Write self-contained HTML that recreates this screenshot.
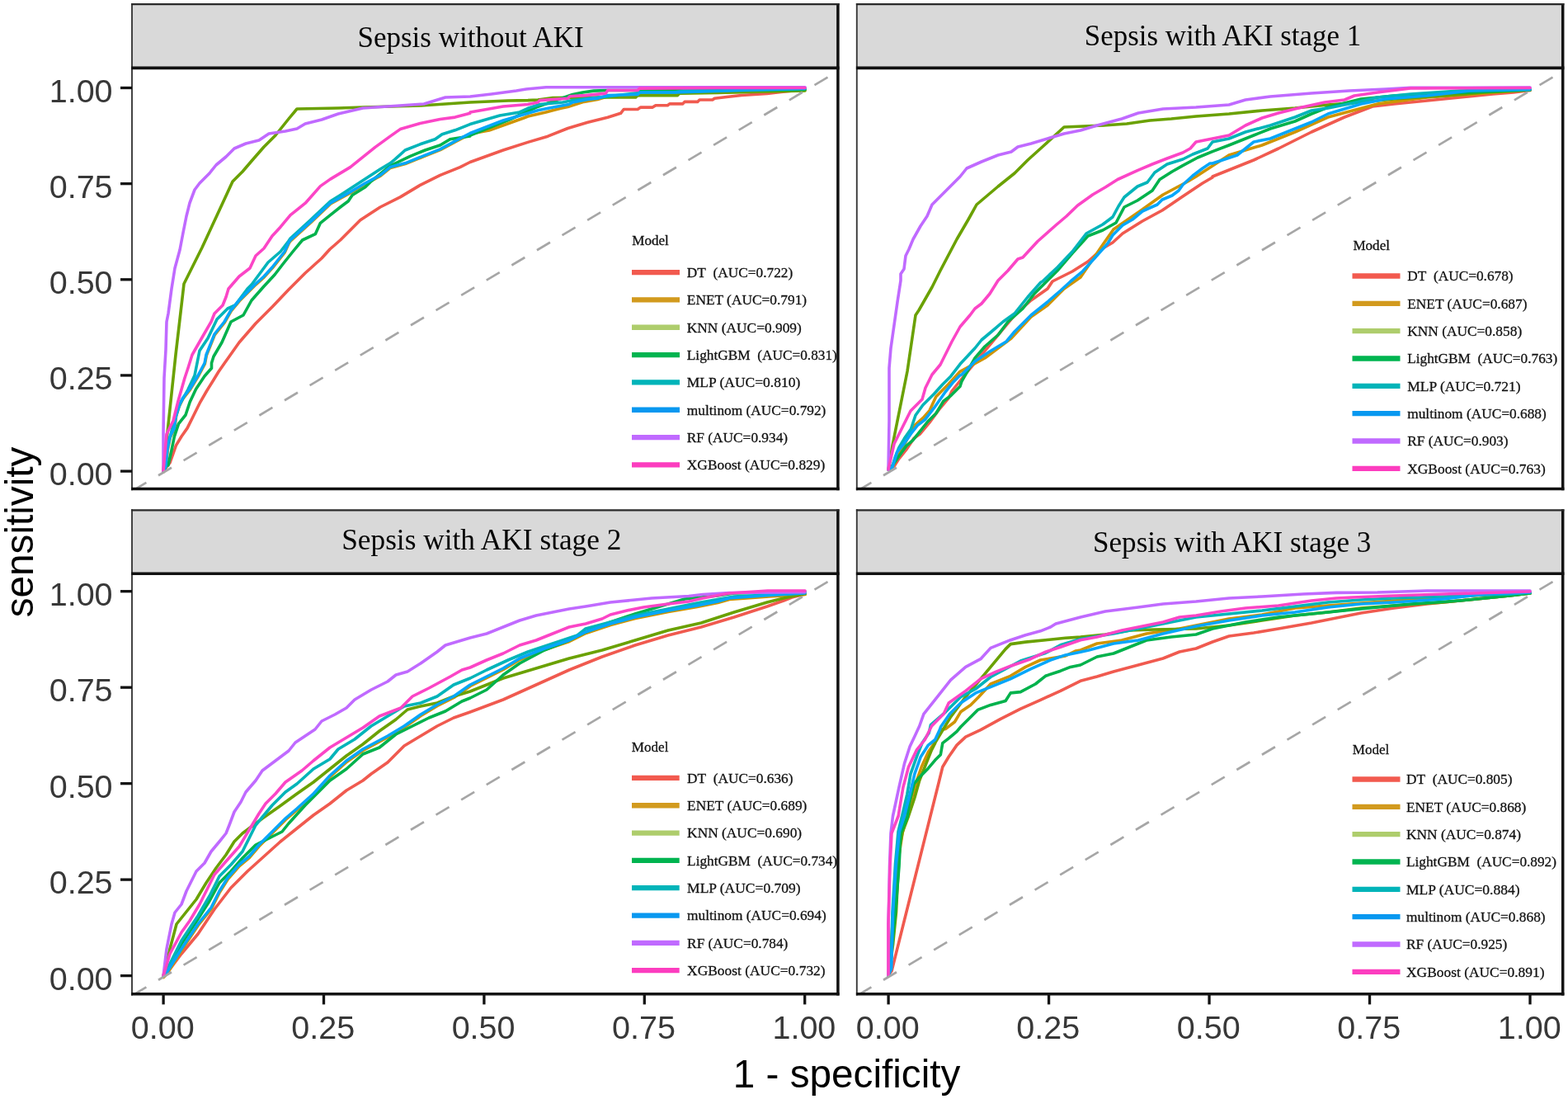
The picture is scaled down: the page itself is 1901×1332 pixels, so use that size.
<!DOCTYPE html>
<html><head><meta charset="utf-8"><title>ROC curves by sepsis/AKI stage</title>
<style>
html,body{margin:0;padding:0;background:#fff;overflow:hidden;width:1901px;height:1332px}
svg{display:block}
.st{font-family:"Liberation Serif",serif;font-size:36.5px;fill:#050505}
.tk{font-family:"Liberation Sans",sans-serif;font-size:39.5px;fill:#383838}
.lg{font-family:"Liberation Serif",serif;font-size:17.6px;fill:#111;stroke:#111;stroke-width:0.3px}
.at{font-family:"Liberation Sans",sans-serif;font-size:47.7px;fill:#000}
</style></head><body>
<svg width="1901" height="1332" viewBox="0 0 1901 1332">
<rect width="1901" height="1332" fill="#fff"/>
<rect x="160" y="5.1" width="855.9" height="77.3" fill="#d9d9d9"/>
<clipPath id="cA"><rect x="160" y="82.4" width="855.9" height="510.1"/></clipPath>
<g clip-path="url(#cA)" fill="none" stroke-linejoin="round" stroke-linecap="round">
<path d="M198,571 206,561 213.4,539.9 220,529 227.1,518.9 235,503 242.8,487.3 250.5,474 258.6,461 265,450.5 272.3,440 278,432 290,415 310,392 330,372 350,351 370,331 390,313 400,302 412.6,291 436.8,266.7 461,251 485.2,238.9 509.4,224.4 533.6,212.3 557.8,202.6 569.9,196.5 610,182 640,172.4 664.2,165.2 688.4,155.5 712.6,148.2 736.8,142.2 752.5,137.3 756.2,132.5 773.1,132.5 776.7,130.1 791.2,130.1 794.9,127.7 809.4,127.7 811.8,125.9 827.5,125.9 830,123.4 845.7,123.4 848.1,121 863.8,121 866.3,119.2 881,117.5 899,115.5 930,113.5 947,111.5 976,108.5" stroke="#F05A4F" stroke-width="3.6"/>
<path d="M198.3,571.8 201.1,567 203.2,546 206.3,530.2 211.6,519.7 213.7,503.8 216.8,493.4 222.1,482.8 230.5,472.3 240,456.6 248.4,440.8 250.3,430.8 260.3,405.8 272.3,390.8 280.3,376.8 290.3,364.8 300.3,354.8 310.3,344.8 320.3,335.8 330.3,324.8 345.3,305.8 350.3,294.8 352.4,291.8 376.6,269.9 400.8,247 425,233.6 443.1,222.8 461.3,213.1 473.4,203.4 491.5,198.6 515.7,188.9 533.9,181.6 552,171.9 570.2,162.3 593,158 635,143 640,141 661.8,136.1 670.2,133.7 680,131.3 688.4,129.5 707.8,123.4 724.7,120.4 736.8,116.8 773.1,115.5 819,113 900,110 976,108.2" stroke="#CF9400" stroke-width="3.6"/>
<path d="M198,571 213,430 220,370 223,344 230,330 245,300 270,246 282,220 294,208 306,194 320,178 334,164 350,144 360,132 410,131 440,130 510,128 570,124 616,122 640,121.6 652.1,121 670.2,118.6 739.2,118 770.7,118 773.1,115.6 821.5,115.6 823.9,113.1 870,112.5 976,110" stroke="#6AA100" stroke-width="3.6"/>
<path d="M198,571 202,564 203.9,564 208.1,545.2 211.3,529.4 216.5,513.6 225,503 230.2,487.3 237.6,471.5 248.1,455.8 256.5,446.3 256.5,440 259,432 269,415 280,390 295,382 305,364 320,347 333,333 343,320 355,305 366.6,291 382.3,283.7 388.4,270.3 400.5,260.7 412.6,251 422.3,243.7 427.1,236.5 442.8,226.8 448.9,220.7 473,201 497.3,189.3 515.4,182 533.6,176 545.7,168.7 569.9,165 570,164 600,152 620,144 650,130 690,116 694.4,114.4 706.5,112 719.9,110.1 735.6,109.5 900,109.5 976,108.5" stroke="#00B24C" stroke-width="3.6"/>
<path d="M198,571 201,550 210,515 218,490 228,472 236,455 242,425 252,410 263,387 276,374 285,370 300,350 305,345 325,318 340,305 350,292 352,289 376,267 400.5,244 412.6,236.5 461,205 473.1,197.8 479.1,192.9 491.2,182 509.4,174.8 527.5,168.7 536,162.7 551.7,157.8 569.9,150.6 606,140 630,136 640,131.3 654.5,126.5 682.3,124 694.4,121.6 779.1,112 817.9,112 830,109.5 849.3,109.5 976,107" stroke="#00B4B9" stroke-width="3.6"/>
<path d="M198,571 200.8,566.2 202.9,545.2 206,529.4 211.3,518.9 213.4,503 216.5,492.6 221.8,482 230.2,471.5 239.7,455.8 248.1,440 250,430 260,405 272,390 280,376 290,364 300,354 310,344 320,335 330,324 345,305 350,294 352.1,291 376.3,269.1 400.5,246.2 424.7,232.8 442.8,222 461,212.3 473.1,202.6 491.2,197.8 515.4,188.1 533.6,180.8 551.7,171.1 569.9,161.5 610,146 640,137.3 652.1,133.7 664.2,131.3 689.6,126.5 694.4,124 712.6,120.4 724.7,119.2 736.8,115.6 773.1,114.4 775.5,112 819.1,112 900,109.5 976,107.5" stroke="#06A6FA" stroke-width="3.6"/>
<path d="M198,571 198,526 199,458 201,424 202,390 204,380 208,350 212,325 218,303 222,282 226,262 230,246 236,230 242,222 254,210 262,200 274,190 284,180 298,174 314,170 326,162 346,159 360,156 370,150 390,145 410,138 440,131 470,129 514,126 540,118 570,117 596,114 626,110 638,108 662,105.8 976,105.8" stroke="#C06AFF" stroke-width="3.6"/>
<path d="M198,571 202,526 210,510 216,486 224,458 228,446 233,430 245,409 256,390 260,380 270,370 274,360 277,350 290,335 303,325 310,310 320,301 330,286 340,275.2 352.1,260.7 370.2,246.2 388.4,225.6 400.5,217.1 424.7,202.6 436.8,192.9 454.9,178.4 473.1,165.1 485.2,156.6 509.4,149.4 533.6,144.5 551.7,142.1 569.9,137.3 570,136 610,129 640,126.5 652.1,124 654.5,121.6 688.4,119.2 690.8,116.8 710.2,115.6 734.4,113.1 736.8,109.5 773.1,109.5 775.5,107.1 870,106.5 976,106.5" stroke="#FB45C6" stroke-width="3.6"/>
<line x1="100.2" y1="630.86" x2="1048.8" y2="66.63" stroke="#a6a6a6" stroke-width="2.7" stroke-linecap="butt" stroke-dasharray="18.6 17"/>
</g>
<text x="766.2" y="297" class="lg" textLength="44.6" lengthAdjust="spacingAndGlyphs">Model</text>
<line x1="766" y1="330.1" x2="824" y2="330.1" stroke="#F25A4F" stroke-width="6.3"/>
<text x="832.8" y="335.9" class="lg" textLength="128.4" lengthAdjust="spacingAndGlyphs">DT  (AUC=0.722)</text>
<line x1="766" y1="363.43" x2="824" y2="363.43" stroke="#D29A1E" stroke-width="6.3"/>
<text x="832.8" y="369.23" class="lg" textLength="145.3" lengthAdjust="spacingAndGlyphs">ENET (AUC=0.791)</text>
<line x1="766" y1="396.76" x2="824" y2="396.76" stroke="#AECD6C" stroke-width="6.3"/>
<text x="832.8" y="402.56" class="lg" textLength="139" lengthAdjust="spacingAndGlyphs">KNN (AUC=0.909)</text>
<line x1="766" y1="430.09" x2="824" y2="430.09" stroke="#00B450" stroke-width="6.3"/>
<text x="832.8" y="435.89" class="lg" textLength="182" lengthAdjust="spacingAndGlyphs">LightGBM  (AUC=0.831)</text>
<line x1="766" y1="463.42" x2="824" y2="463.42" stroke="#00B4B9" stroke-width="6.3"/>
<text x="832.8" y="469.22" class="lg" textLength="137.5" lengthAdjust="spacingAndGlyphs">MLP (AUC=0.810)</text>
<line x1="766" y1="496.75" x2="824" y2="496.75" stroke="#0898F0" stroke-width="6.3"/>
<text x="832.8" y="502.55" class="lg" textLength="168.6" lengthAdjust="spacingAndGlyphs">multinom (AUC=0.792)</text>
<line x1="766" y1="530.08" x2="824" y2="530.08" stroke="#C06AFF" stroke-width="6.3"/>
<text x="832.8" y="535.88" class="lg" textLength="122.3" lengthAdjust="spacingAndGlyphs">RF (AUC=0.934)</text>
<line x1="766" y1="563.41" x2="824" y2="563.41" stroke="#FC3DBF" stroke-width="6.3"/>
<text x="832.8" y="569.21" class="lg" textLength="167.5" lengthAdjust="spacingAndGlyphs">XGBoost (AUC=0.829)</text>
<line x1="160" y1="4" x2="160" y2="594.2" stroke="#3a3a3a" stroke-width="1.9"/>
<line x1="1015.9" y1="4" x2="1015.9" y2="594.2" stroke="#111" stroke-width="3.5"/>
<line x1="159.1" y1="5.1" x2="1017.6" y2="5.1" stroke="#2a2a2a" stroke-width="2.3"/>
<line x1="159.1" y1="82.4" x2="1017.6" y2="82.4" stroke="#111" stroke-width="3.6"/>
<line x1="159.1" y1="592.5" x2="1017.6" y2="592.5" stroke="#111" stroke-width="3.5"/>
<text x="433.5" y="56.8" class="st" textLength="274.2" lengthAdjust="spacingAndGlyphs">Sepsis without AKI</text>
<rect x="1038.8" y="5.1" width="855.9" height="77.3" fill="#d9d9d9"/>
<clipPath id="cB"><rect x="1038.8" y="82.4" width="855.9" height="510.1"/></clipPath>
<g clip-path="url(#cB)" fill="none" stroke-linejoin="round" stroke-linecap="round">
<path d="M1077,569 1082,566 1084.1,565.1 1089.8,556.1 1098.8,544.9 1107.8,531.4 1115.7,525.7 1126.9,512.2 1139.3,495.3 1150.6,481.8 1154,474 1170,454 1190,430 1210,406 1230,382 1250,364 1270,350 1276,341 1300,329 1319,317 1337,301 1349,294 1361,283 1385,268 1409,255 1434,238 1458,222 1470,215 1470,214 1500,202 1520,194 1550,180 1590,160 1630,142 1664,129 1690,126 1730,122 1770,118 1810,114 1835,112 1855,109.5" stroke="#F05A4F" stroke-width="3.6"/>
<path d="M1077,569 1082,566 1100,532 1110,514.5 1119,506.6 1127,497.6 1134.8,480.7 1149.5,466 1164,450.3 1194,434 1226,410 1250,384 1270,370 1290,350 1310,336 1336,298 1350,278 1382,256 1410,236 1440,220 1450,214 1490,188 1530,176 1570,160 1610,142 1640,134 1670,126 1730,118 1800,113 1855,109" stroke="#CF9400" stroke-width="3.6"/>
<path d="M1077,569 1082,540 1090,500 1100,450 1110,382 1114,376 1130,348 1140,328 1160,290 1174,266 1184,248 1210,226 1230,210 1246,194 1266,176 1290,154 1338,152 1366,150 1394,146 1420,144 1450,141 1490,138 1530,134 1570,131 1610,127 1650,124 1690,120 1750,116 1800,112 1855,109" stroke="#6AA100" stroke-width="3.6"/>
<path d="M1077,569 1082,564 1085.3,559.5 1093.2,548.2 1098.8,540.4 1106.7,533.6 1115.7,522.3 1124.7,511 1134.8,501 1143.8,486.3 1152.8,479.5 1164,468.3 1166,462 1182,434 1194,420 1210,406 1222,390 1240,374 1254,356 1280,330 1282,328 1300,307 1319,286 1337,279 1353,270 1363,251 1379,243 1397,231 1406,217.5 1421,208 1434,200.6 1452,191 1470,183.6 1490,176 1520,164 1540,156 1570,147 1590,138 1610,130 1650,120 1690,116 1750,113 1855,109" stroke="#00B24C" stroke-width="3.6"/>
<path d="M1077,569 1081.9,565.1 1085.3,553.9 1089.8,542.6 1096.5,531.4 1104.4,520 1110,503.2 1119,490.8 1132.6,477.3 1142.7,466 1152.8,455.9 1164,441.3 1182,422 1190,412 1202,402 1216,390 1230,380 1246,360 1262,342 1264,341 1282,324 1300,305 1317,283 1337,272 1349,263 1356,250 1363,239 1379,226 1391,221 1400,209 1415,199 1434,193 1446,187 1464,180 1470,172 1490,168 1510,160 1540,152 1570,142 1590,134 1610,131 1640,125 1670,118 1710,114 1770,110 1855,108" stroke="#00B4B9" stroke-width="3.6"/>
<path d="M1077,569 1082,566 1087.5,548.2 1096.5,537 1104.4,525.7 1112.3,515.6 1121.3,508.8 1132.6,494.2 1146.1,475 1155.1,463.8 1164,454.8 1166,454 1182,438 1200,426 1220,414 1230,402 1250,382 1270,366 1286,352 1298,341 1312.6,328.8 1327,313 1343,295 1349,285 1361,273 1373,266 1385,256 1403,248 1409,242 1421,237 1429,231 1434,224 1446,213 1458,204 1467,198 1470,198 1500,188 1520,172 1540,168 1570,156 1590,148 1610,138 1630,132 1650,126 1680,120 1730,116 1782,110 1855,108.5" stroke="#06A6FA" stroke-width="3.6"/>
<path d="M1077,569 1078,510 1078,446 1080,422 1084,394 1088,366 1092,340 1092,332 1096,326 1098,310 1102,302 1107,290 1116,274 1124,262 1130,248 1134,244 1152,226 1164,214 1172,204 1190,196 1210,188 1226,184 1234,178 1250,174 1270,168 1290,162 1310,158 1330,152 1360,144 1380,137 1410,132 1450,130 1490,127 1510,121 1540,117 1590,113 1636,110 1680,108 1710,106.4 1855,106" stroke="#C06AFF" stroke-width="3.6"/>
<path d="M1077,569 1084,538 1094,518 1104,498 1118,484 1122,470 1130,454 1140,442 1146,430 1154,414 1164,396 1176,382 1182,374 1190,368 1200,356 1210,340 1222,328 1234,314 1240,312 1258,292.5 1280,273 1293,262 1306.5,249 1325,235.7 1340,227 1355,217.5 1379,206.6 1397,199 1415,192 1434,185 1443,180 1450,172 1470,168 1490,164 1510,152 1530,143 1550,137 1574,131 1606,124 1630,121 1642,116 1670,112 1710,107 1855,106.5" stroke="#FB45C6" stroke-width="3.6"/>
<line x1="979.2" y1="630.86" x2="1927.8" y2="66.63" stroke="#a6a6a6" stroke-width="2.7" stroke-linecap="butt" stroke-dasharray="18.6 17"/>
</g>
<text x="1640.4" y="303.3" class="lg" textLength="44.6" lengthAdjust="spacingAndGlyphs">Model</text>
<line x1="1639.5" y1="334.5" x2="1697.5" y2="334.5" stroke="#F25A4F" stroke-width="6.3"/>
<text x="1706.2" y="340.3" class="lg" textLength="128.4" lengthAdjust="spacingAndGlyphs">DT  (AUC=0.678)</text>
<line x1="1639.5" y1="367.83" x2="1697.5" y2="367.83" stroke="#D29A1E" stroke-width="6.3"/>
<text x="1706.2" y="373.63" class="lg" textLength="145.3" lengthAdjust="spacingAndGlyphs">ENET (AUC=0.687)</text>
<line x1="1639.5" y1="401.16" x2="1697.5" y2="401.16" stroke="#AECD6C" stroke-width="6.3"/>
<text x="1706.2" y="406.96" class="lg" textLength="139" lengthAdjust="spacingAndGlyphs">KNN (AUC=0.858)</text>
<line x1="1639.5" y1="434.49" x2="1697.5" y2="434.49" stroke="#00B450" stroke-width="6.3"/>
<text x="1706.2" y="440.29" class="lg" textLength="182" lengthAdjust="spacingAndGlyphs">LightGBM  (AUC=0.763)</text>
<line x1="1639.5" y1="467.82" x2="1697.5" y2="467.82" stroke="#00B4B9" stroke-width="6.3"/>
<text x="1706.2" y="473.62" class="lg" textLength="137.5" lengthAdjust="spacingAndGlyphs">MLP (AUC=0.721)</text>
<line x1="1639.5" y1="501.15" x2="1697.5" y2="501.15" stroke="#0898F0" stroke-width="6.3"/>
<text x="1706.2" y="506.95" class="lg" textLength="168.6" lengthAdjust="spacingAndGlyphs">multinom (AUC=0.688)</text>
<line x1="1639.5" y1="534.48" x2="1697.5" y2="534.48" stroke="#C06AFF" stroke-width="6.3"/>
<text x="1706.2" y="540.28" class="lg" textLength="122.3" lengthAdjust="spacingAndGlyphs">RF (AUC=0.903)</text>
<line x1="1639.5" y1="567.81" x2="1697.5" y2="567.81" stroke="#FC3DBF" stroke-width="6.3"/>
<text x="1706.2" y="573.61" class="lg" textLength="167.5" lengthAdjust="spacingAndGlyphs">XGBoost (AUC=0.763)</text>
<line x1="1038.8" y1="4" x2="1038.8" y2="594.2" stroke="#3a3a3a" stroke-width="1.9"/>
<line x1="1894.7" y1="4" x2="1894.7" y2="594.2" stroke="#111" stroke-width="3.5"/>
<line x1="1037.9" y1="5.1" x2="1896.4" y2="5.1" stroke="#2a2a2a" stroke-width="2.3"/>
<line x1="1037.9" y1="82.4" x2="1896.4" y2="82.4" stroke="#111" stroke-width="3.6"/>
<line x1="1037.9" y1="592.5" x2="1896.4" y2="592.5" stroke="#111" stroke-width="3.5"/>
<text x="1314.8" y="55.2" class="st" textLength="335.3" lengthAdjust="spacingAndGlyphs">Sepsis with AKI stage 1</text>
<rect x="160" y="618.3" width="855.9" height="76.9" fill="#d9d9d9"/>
<clipPath id="cC"><rect x="160" y="695.2" width="855.9" height="509.6"/></clipPath>
<g clip-path="url(#cC)" fill="none" stroke-linejoin="round" stroke-linecap="round">
<path d="M198,1183 202,1180 220,1156 240,1132 260,1102 280,1076 300,1056 320,1038 340,1020 360,1004 380,988 400,974 420,958 440,946 450,938 470,924 490,904 510,892 530,880 550,870 570,863 610,848 650,830 690,812 730,796 770,782 810,770 850,760 890,748 930,735 950,728 960,724 976,720" stroke="#F05A4F" stroke-width="3.6"/>
<path d="M198.3,1184.5 202.3,1180.5 220.3,1151.5 240.3,1121.5 256.3,1101.5 266.3,1081.5 276.3,1065.5 290.3,1049.5 302.3,1039.5 314.3,1025.5 330.3,1009.5 346.3,993.5 360.3,981.5 380.3,963.5 400.3,941.5 420.3,923.5 440.3,909.5 470.3,893.5 490.3,881.5 510.3,867.5 530.3,855.5 550.3,845.5 570.3,831.5 590.3,821.5 610.3,811.5 630.3,799.5 660.3,787.5 690.3,777.5 710.3,767.5 740.3,757.5 770.3,749.5 810.3,741.5 845.3,735.5 870.3,730.5 884.3,726.5 912.3,724.5 932.3,723 976.3,720.5" stroke="#CF9400" stroke-width="3.6"/>
<path d="M198,1183 206,1150 214,1120 222,1110 238,1090 250,1070 262,1052 274,1036 284,1020 294,1010 302,1004 318,992 338,978 360,962 380,948 400,932 420,916 440,902 460,886 480,872 494,860 510,856 530,852 550,844 570,838 610,822 650,810 690,798 730,788 770,776 810,764 850,755 890,742 930,730 950,725 976,719.5" stroke="#6AA100" stroke-width="3.6"/>
<path d="M198,1183 202,1178 220,1144 240,1114 254,1092 266,1070 280,1056 294,1040 310,1024 330,1014 342,1008 350,998 370,976 390,956 400,946 420,932 440,914 460,906 480,890 500,880 520,870 540,862 560,850 570,846 590,836 610,818 630,804 660,788 690,776 710,766 740,754 770,744 810,732 830,726 870,722 890,719 976,717" stroke="#00B24C" stroke-width="3.6"/>
<path d="M198,1183 202,1176 220,1140 240,1110 254,1086 266,1062 280,1048 294,1032 310,1000 330,976 346,960 360,950 380,932 400,920 410,908 430,896 450,880 470,868 490,856 510,852 530,844 550,830 570,822 590,812 616,800 640,790 670,780 700,770 710,762 740,754 770,746 810,738 850,730 890,723 930,721 976,717.5" stroke="#00B4B9" stroke-width="3.6"/>
<path d="M198,1183 202,1179 220,1150 240,1120 256,1100 266,1080 276,1064 290,1048 302,1038 314,1024 330,1008 346,992 360,980 380,962 400,940 420,922 440,908 470,892 490,880 510,866 530,854 550,844 570,830 590,820 610,810 630,798 660,786 690,776 710,766 740,756 770,748 810,740 845,734 870,729 884,725 912,723 932,721.5 976,719" stroke="#06A6FA" stroke-width="3.6"/>
<path d="M198,1183 202,1150 208,1120 212,1106 220,1096 226,1080 232,1068 238,1056 248,1046 256,1032 266,1020 274,1010 278,1000 284,984 292,972 298,960 310,946 318,934 334,922 350,910 358,900 370,892 382,884 390,874 406,866 420,858 430,848 450,836 470,826 480,818 494,814 510,804 530,790 540,782 570,773 590,768 610,760 630,752 650,746 670,742 690,738 710,735 740,730 770,727 790,725 835,722.5 852,720.5 884,718.5 976,717.6" stroke="#C06AFF" stroke-width="3.6"/>
<path d="M198,1183 206,1156 220,1130 230,1116 242,1096 250,1080 260,1060 274,1044 290,1026 302,1006 314,986 322,974 334,962 346,948 366,934 380,922 400,906 420,894 440,882 460,868 486,858 500,844 520,834 546,820 560,812 570,809 590,800 610,792 630,782 650,776 670,768 690,760 710,756 730,750 740,745 760,740 780,736 810,732 835,729 852,725 884,719 931,716 976,716" stroke="#FB45C6" stroke-width="3.6"/>
<line x1="100.2" y1="1242.36" x2="1048.8" y2="678.13" stroke="#a6a6a6" stroke-width="2.7" stroke-linecap="butt" stroke-dasharray="18.6 17"/>
</g>
<text x="765.8" y="911.3" class="lg" textLength="44.6" lengthAdjust="spacingAndGlyphs">Model</text>
<line x1="766" y1="942.9" x2="823.7" y2="942.9" stroke="#F25A4F" stroke-width="6.3"/>
<text x="833.1" y="948.7" class="lg" textLength="128.4" lengthAdjust="spacingAndGlyphs">DT  (AUC=0.636)</text>
<line x1="766" y1="976.23" x2="823.7" y2="976.23" stroke="#D29A1E" stroke-width="6.3"/>
<text x="833.1" y="982.03" class="lg" textLength="145.3" lengthAdjust="spacingAndGlyphs">ENET (AUC=0.689)</text>
<line x1="766" y1="1009.56" x2="823.7" y2="1009.56" stroke="#AECD6C" stroke-width="6.3"/>
<text x="833.1" y="1015.36" class="lg" textLength="139" lengthAdjust="spacingAndGlyphs">KNN (AUC=0.690)</text>
<line x1="766" y1="1042.89" x2="823.7" y2="1042.89" stroke="#00B450" stroke-width="6.3"/>
<text x="833.1" y="1048.69" class="lg" textLength="182" lengthAdjust="spacingAndGlyphs">LightGBM  (AUC=0.734)</text>
<line x1="766" y1="1076.22" x2="823.7" y2="1076.22" stroke="#00B4B9" stroke-width="6.3"/>
<text x="833.1" y="1082.02" class="lg" textLength="137.5" lengthAdjust="spacingAndGlyphs">MLP (AUC=0.709)</text>
<line x1="766" y1="1109.55" x2="823.7" y2="1109.55" stroke="#0898F0" stroke-width="6.3"/>
<text x="833.1" y="1115.35" class="lg" textLength="168.6" lengthAdjust="spacingAndGlyphs">multinom (AUC=0.694)</text>
<line x1="766" y1="1142.88" x2="823.7" y2="1142.88" stroke="#C06AFF" stroke-width="6.3"/>
<text x="833.1" y="1148.68" class="lg" textLength="122.3" lengthAdjust="spacingAndGlyphs">RF (AUC=0.784)</text>
<line x1="766" y1="1176.21" x2="823.7" y2="1176.21" stroke="#FC3DBF" stroke-width="6.3"/>
<text x="833.1" y="1182.01" class="lg" textLength="167.5" lengthAdjust="spacingAndGlyphs">XGBoost (AUC=0.732)</text>
<line x1="160" y1="617.2" x2="160" y2="1206.5" stroke="#3a3a3a" stroke-width="1.9"/>
<line x1="1015.9" y1="617.2" x2="1015.9" y2="1206.5" stroke="#111" stroke-width="3.5"/>
<line x1="159.1" y1="618.3" x2="1017.6" y2="618.3" stroke="#2a2a2a" stroke-width="2.3"/>
<line x1="159.1" y1="695.2" x2="1017.6" y2="695.2" stroke="#111" stroke-width="3.6"/>
<line x1="159.1" y1="1204.8" x2="1017.6" y2="1204.8" stroke="#111" stroke-width="3.5"/>
<text x="414.2" y="666.3" class="st" textLength="339.2" lengthAdjust="spacingAndGlyphs">Sepsis with AKI stage 2</text>
<rect x="1038.8" y="618.3" width="855.9" height="76.9" fill="#d9d9d9"/>
<clipPath id="cD"><rect x="1038.8" y="695.2" width="855.9" height="509.6"/></clipPath>
<g clip-path="url(#cD)" fill="none" stroke-linejoin="round" stroke-linecap="round">
<path d="M1077,1182 1081,1177 1087.75,1150 1095.25,1120 1102.75,1090 1110.25,1060 1117.75,1030 1125.25,1000 1132.75,970 1138.75,946 1142.8,929.5 1150.2,917.2 1160,903.1 1170.7,893.1 1188.9,884.6 1213.1,871.3 1237.3,859.2 1261.5,848.3 1285.7,837.4 1309.9,825.3 1330,820 1350,814 1380,806 1410,798 1430,790 1450,786 1470,778 1490,771 1520,767 1550,762 1590,755 1630,747 1650,743 1690,737 1730,732 1770,728 1830,722 1855,719" stroke="#F05A4F" stroke-width="3.6"/>
<path d="M1077,1182 1080,1150 1084,1090 1088,1050 1094,1010 1099.8,987.3 1111.4,946 1117.2,929.5 1125.4,911.4 1132.8,900.6 1141.9,884.1 1146.5,883.4 1157.4,875 1164.7,862.8 1176.8,854.4 1186.5,844.7 1201,829 1225,819.3 1243.3,808.4 1261.5,800 1291.7,795 1303.8,789 1310,788 1330,780 1360,776 1390,768 1430,762 1450,758 1490,750 1530,745 1570,737 1610,734 1690,728 1750,724 1855,718" stroke="#CF9400" stroke-width="3.6"/>
<path d="M1077,1182 1080,1165 1082.6,1144.6 1086.5,1105.6 1088.4,1066.6 1090.4,1027.6 1094.3,1008 1101.5,989 1108.9,966.7 1114.7,946 1122.9,925.4 1129.5,908.9 1133.7,900.6 1134.4,899 1152.6,868.9 1170.7,844.7 1188.9,822.9 1201,808.4 1219.1,786.6 1225.2,780.6 1243.3,778.1 1267.5,775.7 1291.7,773.3 1309.9,772.1 1340,769 1370,764 1400,763 1450,762 1490,758 1530,752 1570,746 1610,742 1650,737 1690,734 1750,730 1830,722 1855,719" stroke="#6AA100" stroke-width="3.6"/>
<path d="M1077,1182 1082,1140 1086,1100 1090,1050 1092,1010 1100,990 1102,975 1108.1,950.2 1114.7,941.9 1125.4,931.2 1133.7,921.3 1140.3,914.7 1142.8,900.6 1150.2,894.9 1160,886.6 1164.7,881 1176.8,868.9 1185.3,860.4 1201,854.4 1219.1,849.5 1225.2,839.9 1237.3,838.6 1255.4,829 1267.5,819.3 1285.7,813.2 1297.8,808.4 1309.9,806 1330,796 1350,792 1370,784 1390,776 1420,772 1450,769 1470,762 1510,754 1550,748 1590,744 1630,740 1670,736 1710,732 1770,728 1830,722 1855,719" stroke="#00B24C" stroke-width="3.6"/>
<path d="M1077,1182 1080,1170 1082,1105 1085.5,1047 1089,1008 1094,987.3 1099.8,962.6 1104,937.8 1111.4,917.2 1118,900.6 1126.2,888.3 1128.4,878.6 1146.5,862.8 1164.7,844.7 1182.8,835 1201,820.5 1237.3,801 1267.5,791.5 1285.7,781.8 1309.9,774.5 1350,768 1390,760 1430,752 1450,748 1490,744 1530,740 1570,735 1610,730 1650,727 1690,725 1750,723 1830,720 1855,718" stroke="#00B4B9" stroke-width="3.6"/>
<path d="M1077,1182 1080.6,1173.9 1082.6,1105.6 1086.5,1047 1090.4,1008 1096.5,989 1103.1,962.6 1108.9,937.8 1116.3,917.2 1125.4,903.1 1133.7,896.5 1139.5,884.1 1140.5,881 1151.4,865.3 1164.7,852 1182.8,839.9 1201,832.6 1225,822.9 1249.4,810.8 1273.6,800 1291.7,793.9 1309.9,790.2 1320,788 1350,780 1380,776 1410,768 1450,759 1490,752 1530,746 1570,742 1610,736 1650,732 1690,730 1750,726 1800,720 1855,718" stroke="#06A6FA" stroke-width="3.6"/>
<path d="M1077,1182 1077,1120 1077.8,1086 1078.5,1050 1080,1010 1082.5,989 1089.9,954.3 1096.5,925.4 1103.1,904.8 1108.9,892.4 1114.7,880 1119.9,865.3 1134.4,847.1 1152.6,824.1 1170.7,808.4 1188.9,798.7 1201,785.4 1225.2,775.7 1243.3,769.7 1261.5,764.8 1273.6,760 1280,756 1310,748 1340,741 1380,736 1410,732 1450,729 1490,725 1530,723 1580,720 1620,718.4 1670,718 1730,716 1855,716" stroke="#C06AFF" stroke-width="3.6"/>
<path d="M1077,1182 1077,1120 1079,1050 1081,1010 1089.1,989 1094.9,954.3 1101.5,929.5 1111.4,908.9 1121.3,896.5 1129.5,880 1144.1,865.3 1150.2,852 1170.7,837.4 1188.9,822.9 1207,814.4 1225.2,807.2 1249.4,798.7 1267.5,790.2 1285.7,784.2 1309.9,775.7 1330,772 1360,764 1380,760 1410,754 1430,748 1450,746 1480,741 1510,737 1550,734 1590,728 1620,725 1640,724 1690,722 1750,720 1855,717" stroke="#FB45C6" stroke-width="3.6"/>
<line x1="979.2" y1="1242.36" x2="1927.8" y2="678.13" stroke="#a6a6a6" stroke-width="2.7" stroke-linecap="butt" stroke-dasharray="18.6 17"/>
</g>
<text x="1639.7" y="914.3" class="lg" textLength="44.6" lengthAdjust="spacingAndGlyphs">Model</text>
<line x1="1639.5" y1="944.5" x2="1697.5" y2="944.5" stroke="#F25A4F" stroke-width="6.3"/>
<text x="1705" y="950.3" class="lg" textLength="128.4" lengthAdjust="spacingAndGlyphs">DT  (AUC=0.805)</text>
<line x1="1639.5" y1="977.83" x2="1697.5" y2="977.83" stroke="#D29A1E" stroke-width="6.3"/>
<text x="1705" y="983.63" class="lg" textLength="145.3" lengthAdjust="spacingAndGlyphs">ENET (AUC=0.868)</text>
<line x1="1639.5" y1="1011.16" x2="1697.5" y2="1011.16" stroke="#AECD6C" stroke-width="6.3"/>
<text x="1705" y="1016.96" class="lg" textLength="139" lengthAdjust="spacingAndGlyphs">KNN (AUC=0.874)</text>
<line x1="1639.5" y1="1044.49" x2="1697.5" y2="1044.49" stroke="#00B450" stroke-width="6.3"/>
<text x="1705" y="1050.29" class="lg" textLength="182" lengthAdjust="spacingAndGlyphs">LightGBM  (AUC=0.892)</text>
<line x1="1639.5" y1="1077.82" x2="1697.5" y2="1077.82" stroke="#00B4B9" stroke-width="6.3"/>
<text x="1705" y="1083.62" class="lg" textLength="137.5" lengthAdjust="spacingAndGlyphs">MLP (AUC=0.884)</text>
<line x1="1639.5" y1="1111.15" x2="1697.5" y2="1111.15" stroke="#0898F0" stroke-width="6.3"/>
<text x="1705" y="1116.95" class="lg" textLength="168.6" lengthAdjust="spacingAndGlyphs">multinom (AUC=0.868)</text>
<line x1="1639.5" y1="1144.48" x2="1697.5" y2="1144.48" stroke="#C06AFF" stroke-width="6.3"/>
<text x="1705" y="1150.28" class="lg" textLength="122.3" lengthAdjust="spacingAndGlyphs">RF (AUC=0.925)</text>
<line x1="1639.5" y1="1177.81" x2="1697.5" y2="1177.81" stroke="#FC3DBF" stroke-width="6.3"/>
<text x="1705" y="1183.61" class="lg" textLength="167.5" lengthAdjust="spacingAndGlyphs">XGBoost (AUC=0.891)</text>
<line x1="1038.8" y1="617.2" x2="1038.8" y2="1206.5" stroke="#3a3a3a" stroke-width="1.9"/>
<line x1="1894.7" y1="617.2" x2="1894.7" y2="1206.5" stroke="#111" stroke-width="3.5"/>
<line x1="1037.9" y1="618.3" x2="1896.4" y2="618.3" stroke="#2a2a2a" stroke-width="2.3"/>
<line x1="1037.9" y1="695.2" x2="1896.4" y2="695.2" stroke="#111" stroke-width="3.6"/>
<line x1="1037.9" y1="1204.8" x2="1896.4" y2="1204.8" stroke="#111" stroke-width="3.5"/>
<text x="1325" y="668.8" class="st" textLength="337.4" lengthAdjust="spacingAndGlyphs">Sepsis with AKI stage 3</text>
<line x1="146" y1="571.1" x2="160" y2="571.1" stroke="#111" stroke-width="3.3"/>
<text x="136.6" y="588.1" text-anchor="end" class="tk">0.00</text>
<line x1="146" y1="454.95" x2="160" y2="454.95" stroke="#111" stroke-width="3.3"/>
<text x="136.6" y="471.95" text-anchor="end" class="tk">0.25</text>
<line x1="146" y1="338.8" x2="160" y2="338.8" stroke="#111" stroke-width="3.3"/>
<text x="136.6" y="355.8" text-anchor="end" class="tk">0.50</text>
<line x1="146" y1="222.65" x2="160" y2="222.65" stroke="#111" stroke-width="3.3"/>
<text x="136.6" y="239.65" text-anchor="end" class="tk">0.75</text>
<line x1="146" y1="106.5" x2="160" y2="106.5" stroke="#111" stroke-width="3.3"/>
<text x="136.6" y="123.5" text-anchor="end" class="tk">1.00</text>
<line x1="146" y1="1182.6" x2="160" y2="1182.6" stroke="#111" stroke-width="3.3"/>
<text x="136.6" y="1199.6" text-anchor="end" class="tk">0.00</text>
<line x1="146" y1="1066.12" x2="160" y2="1066.12" stroke="#111" stroke-width="3.3"/>
<text x="136.6" y="1083.12" text-anchor="end" class="tk">0.25</text>
<line x1="146" y1="949.65" x2="160" y2="949.65" stroke="#111" stroke-width="3.3"/>
<text x="136.6" y="966.65" text-anchor="end" class="tk">0.50</text>
<line x1="146" y1="833.17" x2="160" y2="833.17" stroke="#111" stroke-width="3.3"/>
<text x="136.6" y="850.17" text-anchor="end" class="tk">0.75</text>
<line x1="146" y1="716.7" x2="160" y2="716.7" stroke="#111" stroke-width="3.3"/>
<text x="136.6" y="733.7" text-anchor="end" class="tk">1.00</text>
<line x1="198.1" y1="1204.8" x2="198.1" y2="1217.4" stroke="#111" stroke-width="3.3"/>
<text x="197.3" y="1259.1" text-anchor="middle" class="tk">0.00</text>
<line x1="392.5" y1="1204.8" x2="392.5" y2="1217.4" stroke="#111" stroke-width="3.3"/>
<text x="391.7" y="1259.1" text-anchor="middle" class="tk">0.25</text>
<line x1="586.9" y1="1204.8" x2="586.9" y2="1217.4" stroke="#111" stroke-width="3.3"/>
<text x="586.1" y="1259.1" text-anchor="middle" class="tk">0.50</text>
<line x1="781.3" y1="1204.8" x2="781.3" y2="1217.4" stroke="#111" stroke-width="3.3"/>
<text x="780.5" y="1259.1" text-anchor="middle" class="tk">0.75</text>
<line x1="975.7" y1="1204.8" x2="975.7" y2="1217.4" stroke="#111" stroke-width="3.3"/>
<text x="974.9" y="1259.1" text-anchor="middle" class="tk">1.00</text>
<line x1="1077.1" y1="1204.8" x2="1077.1" y2="1217.4" stroke="#111" stroke-width="3.3"/>
<text x="1076.3" y="1259.1" text-anchor="middle" class="tk">0.00</text>
<line x1="1271.57" y1="1204.8" x2="1271.57" y2="1217.4" stroke="#111" stroke-width="3.3"/>
<text x="1270.77" y="1259.1" text-anchor="middle" class="tk">0.25</text>
<line x1="1466.05" y1="1204.8" x2="1466.05" y2="1217.4" stroke="#111" stroke-width="3.3"/>
<text x="1465.25" y="1259.1" text-anchor="middle" class="tk">0.50</text>
<line x1="1660.53" y1="1204.8" x2="1660.53" y2="1217.4" stroke="#111" stroke-width="3.3"/>
<text x="1659.73" y="1259.1" text-anchor="middle" class="tk">0.75</text>
<line x1="1855" y1="1204.8" x2="1855" y2="1217.4" stroke="#111" stroke-width="3.3"/>
<text x="1854.2" y="1259.1" text-anchor="middle" class="tk">1.00</text>
<text x="1026.6" y="1318" text-anchor="middle" class="at">1 - specificity</text>
<text transform="translate(39.8,645) rotate(-90)" text-anchor="middle" class="at">sensitivity</text>
</svg>
</body></html>
